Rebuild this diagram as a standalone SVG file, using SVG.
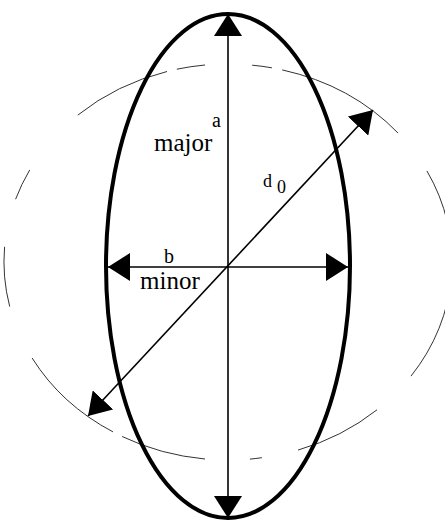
<svg xmlns="http://www.w3.org/2000/svg" width="445" height="522" viewBox="0 0 445 522">
  <style>
    .lbl { font-family: "Liberation Serif", "Times New Roman", serif; fill: #000; }
    .axis { stroke: #000; stroke-width: 1.6; fill: none; }
    .dash { stroke: #333; stroke-width: 1; fill: none; }
  </style>
  <defs>
    <marker id="arr" viewBox="0 0 22 28" refX="22" refY="14" markerWidth="22" markerHeight="28" markerUnits="userSpaceOnUse" orient="auto-start-reverse">
      <path d="M0,0 L22,14 L0,28 Z" fill="#000"/>
    </marker>
  </defs>
  <rect width="445" height="522" fill="#fff"/>
  <g id="outer-circle">
    <path class="dash" d="M252.2,65.2 A224,198 0 0 1 271.9,67.8"/>
    <path class="dash" d="M282.2,69.9 A224,198 0 0 1 398.1,133.1"/>
    <path class="dash" d="M426.9,170.9 A224,198 0 0 1 411.0,376.1"/>
    <path class="dash" d="M377.0,409.8 A224,198 0 0 1 298.0,450.1"/>
    <path class="dash" d="M261.9,457.7 A224,198 0 0 1 249.9,459.1"/>
    <path class="dash" d="M205.0,459.0 A224,198 0 0 1 122.1,436.5"/>
    <path class="dash" d="M113.0,431.9 A224,198 0 0 1 32.1,358.0"/>
    <path class="dash" d="M9.7,306.5 A224,198 0 0 1 4.6,246.8"/>
    <path class="dash" d="M15.6,199.2 A224,198 0 0 1 29.7,170.0"/>
    <path class="dash" d="M77.8,115.1 A224,198 0 0 1 167.0,71.5"/>
    <path class="dash" d="M176.8,69.2 A224,198 0 0 1 205.0,65.0"/>
  </g>
  <g id="ellipse">
    <ellipse cx="228" cy="266" rx="122" ry="252" fill="none" stroke="#000" stroke-width="4"/>
  </g>
  <g id="connectors">
    <line class="axis" x1="228" y1="14" x2="228" y2="518" marker-start="url(#arr)" marker-end="url(#arr)"/>
    <line class="axis" x1="108" y1="267" x2="348" y2="267" marker-start="url(#arr)" marker-end="url(#arr)"/>
    <line class="axis" x1="88" y1="416" x2="373" y2="110" stroke-width="1.4" marker-start="url(#arr)" marker-end="url(#arr)"/>
  </g>
  <g id="label-major">
    <text class="lbl" x="212" y="127" font-size="20">a</text>
    <text class="lbl" x="154" y="151" font-size="25">major</text>
  </g>
  <g id="label-minor">
    <text class="lbl" x="164" y="263" font-size="20">b</text>
    <text class="lbl" x="140" y="289" font-size="25">minor</text>
  </g>
  <g id="label-d0">
    <text class="lbl" x="263" y="187" font-size="18">d</text>
    <text class="lbl" x="277" y="193" font-size="18">0</text>
  </g>
</svg>
